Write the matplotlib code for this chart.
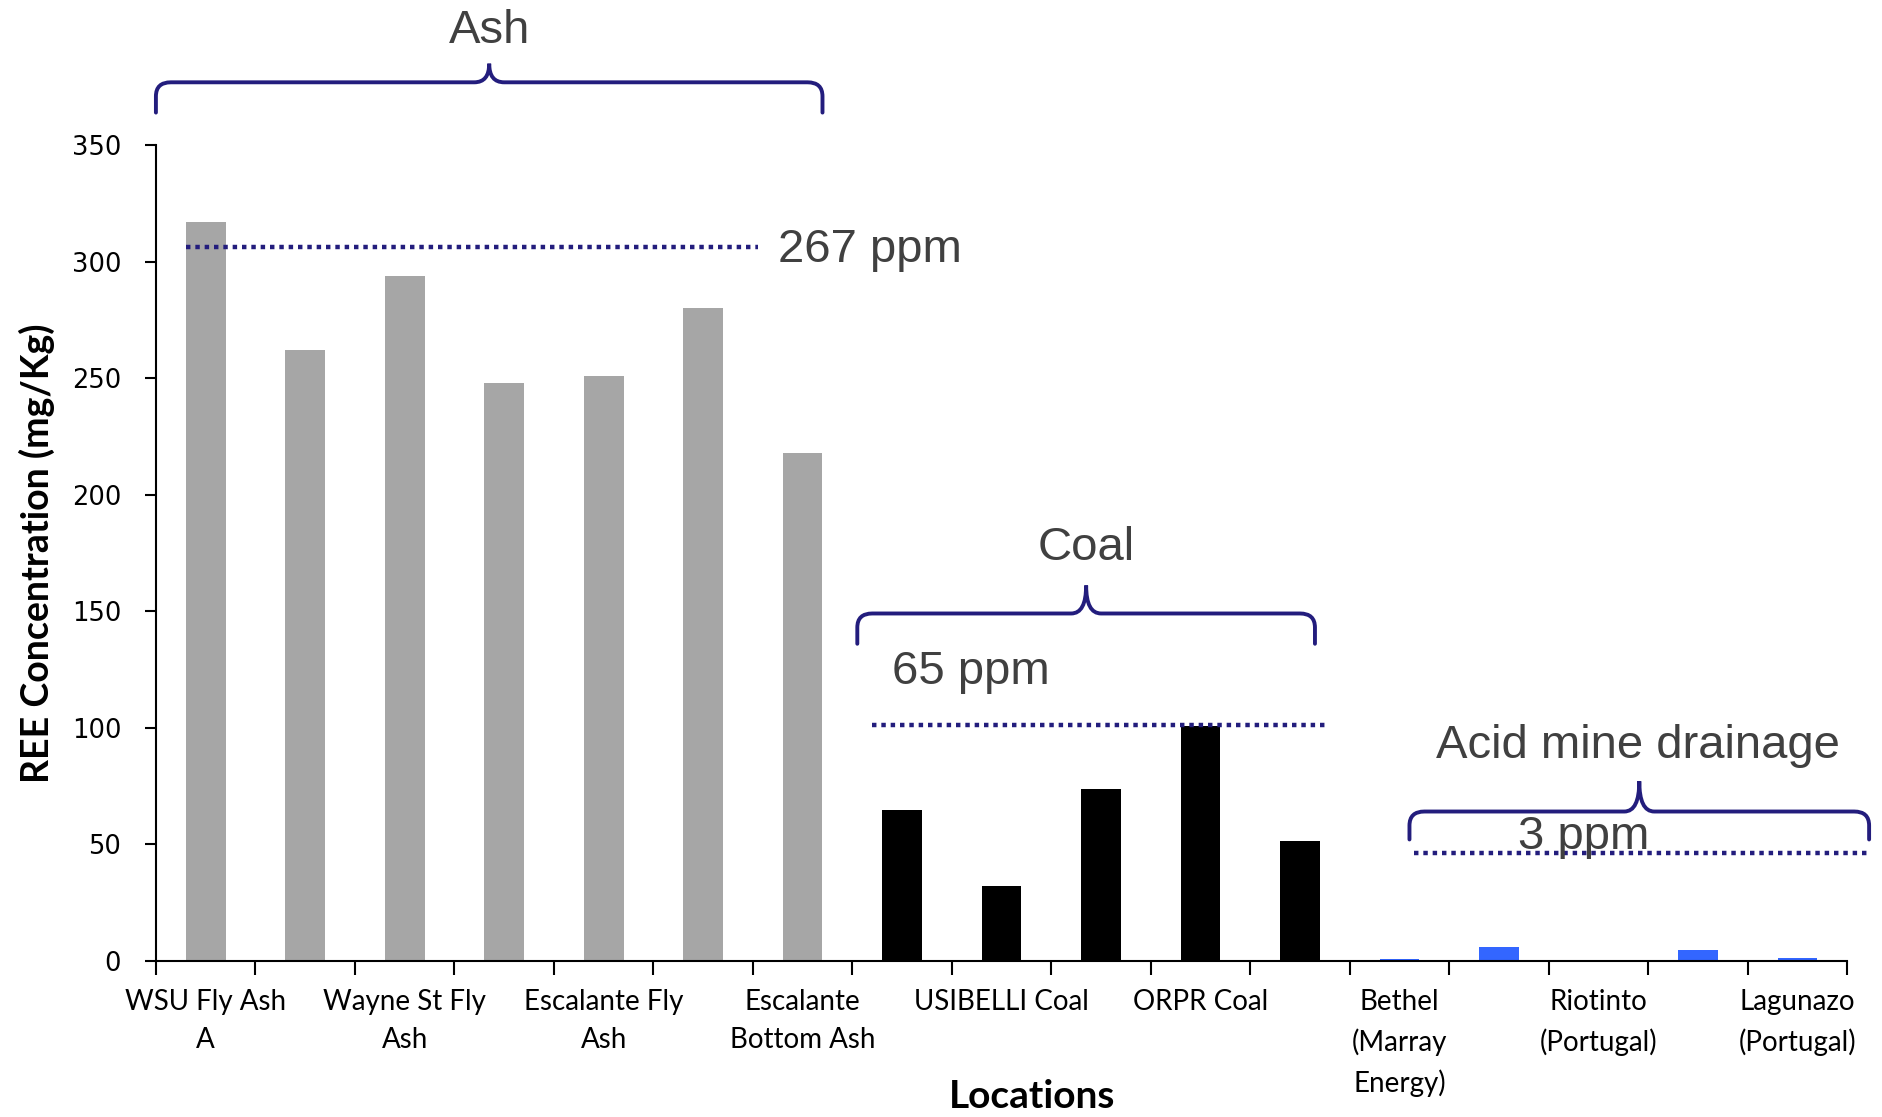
import matplotlib
matplotlib.use("Agg")
import matplotlib.pyplot as plt
from matplotlib.path import Path
from matplotlib.patches import PathPatch

# ---- data ----
ash_values = [317, 262, 294, 248, 251, 280, 218]
coal_values = [64.5, 32, 73.5, 100.5, 51.5]
amd_values = [0.5, 5.7, 0.4, 4.7, 1.0]
tick_labels = ["WSU Fly Ash\nA", "Wayne St Fly\nAsh", "Escalante Fly\nAsh",
               "Escalante\nBottom Ash", "USIBELLI Coal", "ORPR Coal",
               "Bethel\n(Marray\nEnergy)", "Riotinto\n(Portugal)", "Lagunazo\n(Portugal)"]
group_names = ["Ash", "Coal", "Acid mine drainage"]
group_avg_text = ["267 ppm", "65 ppm", "3 ppm"]

navy = "#231d7d"
label_font = ["Lato", "DejaVu Sans"]
note_font = ["Liberation Sans", "DejaVu Sans"]

fig = plt.figure(figsize=(18.83, 11.17), dpi=100)
ax = fig.add_axes([0.0828, 0.140, 0.8982, 0.730])

values = ash_values + coal_values + amd_values
colors = ["#a6a6a6"] * len(ash_values) + ["#000000"] * len(coal_values) + ["#3366ff"] * len(amd_values)
x = list(range(len(values)))
ax.bar(x, values, width=0.4, color=colors, zorder=2)

ax.set_xlim(-0.5, len(values) - 0.5)
ax.set_ylim(0, 350)
ax.set_yticks(range(0, 351, 50))
ax.tick_params(axis="y", labelsize=18.5, length=8, width=1.5, direction="out", pad=17)
for t in ax.get_yticklabels():
    t.set_family(["DejaVu Sans"])

# ticks on category boundaries, labels on every other category
ax.set_xticks([i - 0.5 for i in range(len(values) + 1)])
ax.set_xticklabels([])
ax.tick_params(axis="x", length=10, width=1.5, direction="out")
for i, lab in enumerate(tick_labels):
    ax.text(2 * i, -12, lab, ha="center", va="top", fontsize=20,
            family=label_font, linespacing=1.6)

for s in ["top", "right"]:
    ax.spines[s].set_visible(False)
for s in ["left", "bottom"]:
    ax.spines[s].set_linewidth(1.5)

ax.set_ylabel("REE Concentration (mg/Kg)", fontsize=27, fontweight="bold",
              family=label_font, labelpad=12)
fig.text(0.548, 0.003, "Locations", ha="center", va="bottom", fontsize=28,
         fontweight="bold", family=label_font)


def bracket(x0, x1, h, e, p, rx=0.15, ry=6):
    m = (x0 + x1) / 2
    verts = [(x0, e), (x0, h - ry), (x0, h), (x0 + rx, h), (m - rx, h),
             (m, h), (m, p), (m, h), (m + rx, h), (x1 - rx, h),
             (x1, h), (x1, h - ry), (x1, e)]
    codes = [Path.MOVETO, Path.LINETO, Path.CURVE3, Path.CURVE3, Path.LINETO,
             Path.CURVE3, Path.CURVE3, Path.CURVE3, Path.CURVE3, Path.LINETO,
             Path.CURVE3, Path.CURVE3, Path.LINETO]
    ax.add_patch(PathPatch(Path(verts, codes), fill=False, edgecolor=navy,
                           lw=2.8, clip_on=False, zorder=4, capstyle="round"))


# brackets and group names
bracket(-0.5, 6.2, 377, 364, 385)
bracket(6.55, 11.15, 149, 136, 161)
bracket(12.1, 16.72, 64, 52, 77)
ax.text(2.85, 399, group_names[0], ha="center", va="center", fontsize=34,
        color="#404040", family=note_font, clip_on=False)
ax.text(8.85, 177, group_names[1], ha="center", va="center", fontsize=34,
        color="#404040", family=note_font)
ax.text(14.4, 92, group_names[2], ha="center", va="center", fontsize=34,
        color="#404040", family=note_font)

# average lines
dot = dict(color=navy, lw=3.2, linestyle=(0, (1, 1.1)), dash_capstyle="butt",
           zorder=3, clip_on=False)
ax.plot([-0.2, 5.55], [306.5, 306.5], **dot)
ax.plot([6.7, 11.25], [101, 101], **dot)
ax.plot([12.15, 16.7], [46, 46], **dot)
ax.text(5.75, 305, group_avg_text[0], ha="left", va="center", fontsize=34,
        color="#404040", family=note_font)
ax.text(6.9, 124, group_avg_text[1], ha="left", va="center", fontsize=34,
        color="#404040", family=note_font)
ax.text(13.85, 53, group_avg_text[2], ha="center", va="center", fontsize=34,
        color="#404040", family=note_font)

fig.savefig("out.png", dpi=100)
